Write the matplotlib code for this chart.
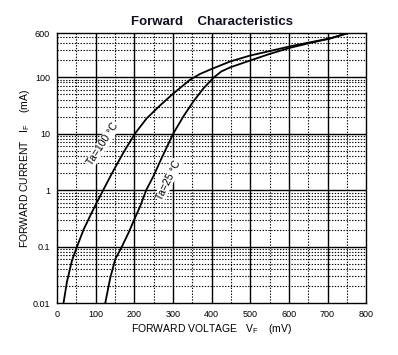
import numpy as np
import matplotlib
matplotlib.use('Agg')
import matplotlib.pyplot as plt

plt.rcParams['font.family'] = ['Liberation Sans', 'DejaVu Sans']
plt.rcParams['mathtext.fontset'] = 'custom'
plt.rcParams['mathtext.rm'] = 'Liberation Sans'
plt.rcParams['mathtext.it'] = 'Liberation Sans'

# forward voltage (mV) vs forward current (mA)
v_100 = [17, 26, 39, 52, 69, 86, 99, 121, 146, 172, 202, 232, 267, 301, 345,
         370, 396, 448, 500, 552, 604, 655, 707, 750]
i_100 = [0.01, 0.024, 0.057, 0.1, 0.2, 0.35, 0.53, 1.04, 2.2, 4.6, 10, 18.5, 31.5, 51, 90,
         113, 135, 188, 240, 289, 350, 411, 483, 590]

v_25 = [125, 138, 151, 168, 186, 199, 216, 231, 250, 271, 301, 327, 353, 380, 405,
        425, 448, 500, 552, 604, 655, 707, 750]
i_25 = [0.01, 0.028, 0.06, 0.1, 0.18, 0.29, 0.53, 1.0, 1.78, 3.7, 10, 20, 37, 64, 97,
        125, 148, 196, 258, 330, 400, 480, 590]

x_ticks = [0, 100, 200, 300, 400, 500, 600, 700, 800]
y_ticks = [0.01, 0.1, 1, 10, 100, 600]
y_labels = ['0.01', '0.1', '1', '10', '100', '600']

fig = plt.figure(figsize=(3.98, 3.55), dpi=100)
ax = fig.add_axes([0.143, 0.146, 0.777, 0.761])
ax.set_yscale('log')
ax.set_xlim(0, 800)
ax.set_ylim(0.01, 600)

# grid
dots = (0, (1.2, 1.4))
for x in range(50, 800, 100):
    ax.axvline(x, color='black', lw=0.8, ls=dots)
for x in range(100, 800, 100):
    ax.axvline(x, color='black', lw=1.0)
for dec in [0.01, 0.1, 1, 10, 100]:
    for m in range(2, 10):
        y = dec * m
        if y < 600:
            ax.axhline(y, color='black', lw=0.8, ls=dots)
for y in [0.1, 1, 10, 100]:
    ax.axhline(y, color='black', lw=1.0)

ax.plot(v_100, i_100, color='black', lw=1.3)
ax.plot(v_25, i_25, color='black', lw=1.3)

box = dict(facecolor='white', edgecolor='none', pad=0.5)
ax.text(118, 6.5, 'Ta=100 °C', rotation=57, fontsize=7.5, ha='center', va='center', bbox=box)
ax.text(288, 1.5, 'Ta=25 °C', rotation=64, fontsize=7.5, ha='center', va='center', bbox=box)

ax.set_xticks(x_ticks)
ax.set_xticklabels([str(x) for x in x_ticks])
ax.set_yticks(y_ticks)
ax.set_yticklabels(y_labels)
ax.yaxis.set_minor_locator(matplotlib.ticker.NullLocator())
ax.tick_params(length=0, labelsize=6.5, pad=5)
for s in ax.spines.values():
    s.set_linewidth(1.0)

ax.set_title('Forward    Characteristics', fontsize=9.5, fontweight='bold', color='#111122', pad=6)
ax.set_xlabel('FORWARD VOLTAGE   V$_F$    (mV)', fontsize=7.5, labelpad=2)
ax.set_ylabel('FORWARD CURRENT   I$_F$    (mA)', fontsize=7.5, labelpad=0)

fig.savefig('out.png', dpi=100)
